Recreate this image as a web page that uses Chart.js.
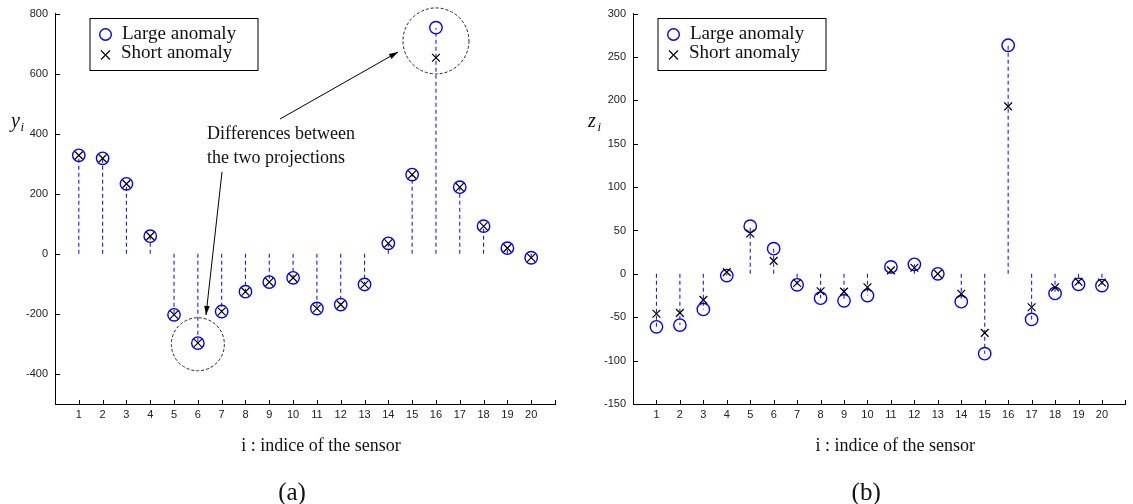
<!DOCTYPE html>
<html>
<head>
<meta charset="utf-8">
<script src="https://cdn.jsdelivr.net/npm/chart.js@4.4.1/dist/chart.umd.min.js"></script>
<style>
  body { margin: 0; background: #fff; }
  #wrap { position: relative; width: 1133px; height: 504px; }
  .box { position: absolute; top: 0; height: 504px; }
</style>
</head>
<body>
<div id="wrap">
  <div class="box" style="left:0;width:566px"><canvas id="chartA"></canvas></div>
  <div class="box" style="left:566px;width:567px"><canvas id="chartB"></canvas></div>
</div>
<script>
// sensor indices
const sensors = [1, 2, 3, 4, 5, 6, 7, 8, 9, 10, 11, 12, 13, 14, 15, 16, 17, 18, 19, 20];

// (a) projections y_i
const largeY = [328, 318, 233, 59, -203, -297, -192, -126, -94, -80, -182, -169, -102, 35, 264, 753, 222, 92, 19, -13];
const shortY = [328, 318, 233, 59, -203, -297, -192, -126, -94, -80, -182, -169, -102, 35, 264, 653, 222, 92, 19, -13];

// (b) projections z_i
const largeZ = [-61, -59, -41, -2, 55, 29, -12.6, -28, -31, -25, 8, 11, 0, -32, -92, 263.5, -52.5, -22.5, -12, -13.5];
const shortZ = [-46, -45, -30, 2, 46.5, 15, -10.5, -20, -20.5, -15.5, 4, 7, 0, -23, -68, 193, -38.5, -15.5, -9, -10];

const yTicksA = [-400, -200, 0, 200, 400, 600, 800];
const yTicksB = [-150, -100, -50, 0, 50, 100, 150, 200, 250, 300];
const xTicks = [1, 2, 3, 4, 5, 6, 7, 8, 9, 10, 11, 12, 13, 14, 15, 16, 17, 18, 19, 20];

const SERIF = '"Liberation Serif", "Times New Roman", serif';
const SANS = '"Liberation Sans", Arial, sans-serif';
const BLUE = '#0000ff';

function stemSets(vals) {
  return sensors.map((s, i) => ({
    type: 'line',
    data: [{ x: s, y: 0 }, { x: s, y: vals[i] }],
    borderColor: '#1a1aff',
    borderWidth: 1.1,
    borderDash: [4, 3],
    pointRadius: 0,
    order: 2
  }));
}

function drawCross(ctx, x, y, r) {
  ctx.beginPath();
  ctx.moveTo(x - r, y - r); ctx.lineTo(x + r, y + r);
  ctx.moveTo(x - r, y + r); ctx.lineTo(x + r, y - r);
  ctx.stroke();
}

function arrow(ctx, x1, y1, x2, y2) {
  ctx.save();
  ctx.strokeStyle = '#000';
  ctx.fillStyle = '#000';
  ctx.lineWidth = 1;
  ctx.setLineDash([]);
  ctx.beginPath();
  ctx.moveTo(x1, y1); ctx.lineTo(x2, y2);
  ctx.stroke();
  const a = Math.atan2(y2 - y1, x2 - x1);
  const L = 9, W = 2.8;
  ctx.beginPath();
  ctx.moveTo(x2, y2);
  ctx.lineTo(x2 - L * Math.cos(a) + W * Math.sin(a), y2 - L * Math.sin(a) - W * Math.cos(a));
  ctx.lineTo(x2 - L * Math.cos(a) - W * Math.sin(a), y2 - L * Math.sin(a) + W * Math.cos(a));
  ctx.closePath();
  ctx.fill();
  ctx.restore();
}

// extras: inward ticks, legend, axis labels, panel letters
function extrasPlugin(cfg) {
  return {
    id: 'extras',
    afterDraw(chart) {
      const ctx = chart.ctx;
      const xs = chart.scales.x, ys = chart.scales.y;
      const ca = chart.chartArea;
      ctx.save();
      ctx.strokeStyle = '#000';
      ctx.lineWidth = 1;
      // inward ticks
      ctx.beginPath();
      xTicks.concat([21]).forEach(v => {
        const px = Math.round(xs.getPixelForValue(v)) + 0.5;
        ctx.moveTo(px, ca.bottom); ctx.lineTo(px, ca.bottom - 4);
      });
      cfg.yTicks.forEach(v => {
        const py = Math.round(ys.getPixelForValue(v)) + 0.5;
        ctx.moveTo(ca.left, py); ctx.lineTo(ca.left + 5, py);
      });
      ctx.stroke();

      // legend box
      const lx = ca.left + cfg.legendDx, ly = 18.5, lw = 168, lh = 52;
      ctx.fillStyle = '#fff';
      ctx.fillRect(lx, ly, lw, lh);
      ctx.strokeStyle = '#000';
      ctx.strokeRect(lx, ly, lw, lh);
      ctx.strokeStyle = BLUE;
      ctx.lineWidth = 1.4;
      ctx.beginPath();
      ctx.arc(lx + 15.5, ly + 16, 5.8, 0, Math.PI * 2);
      ctx.stroke();
      ctx.strokeStyle = '#000';
      ctx.lineWidth = 1.1;
      drawCross(ctx, lx + 15.5, ly + 36.5, 4.5);
      ctx.fillStyle = '#111';
      ctx.font = '19px ' + SERIF;
      ctx.textBaseline = 'middle';
      ctx.textAlign = 'left';
      ctx.fillText('Large anomaly', lx + 32, ly + 16);
      ctx.fillText('Short anomaly', lx + 31, ly + 35);

      // y label with subscript
      ctx.font = 'italic 20px ' + SERIF;
      ctx.textBaseline = 'alphabetic';
      ctx.fillText(cfg.yName, cfg.yLabelX, 127);
      ctx.font = 'italic 13px ' + SERIF;
      ctx.fillText('i', cfg.yLabelX + 9.5, 131);

      // x title and panel letter
      ctx.textAlign = 'center';
      ctx.textBaseline = 'middle';
      ctx.font = '18px ' + SERIF;
      ctx.fillText('i : indice of the sensor', (ca.left + ca.right) / 2 + 16, 446);
      ctx.font = '25px ' + SERIF;
      ctx.fillText(cfg.letter, (ca.left + ca.right) / 2 + cfg.letterDx, 493);

      if (cfg.annotate) cfg.annotate(chart, ctx);
      ctx.restore();
    }
  };
}

function annotateA(chart, ctx) {
  const xs = chart.scales.x, ys = chart.scales.y;
  ctx.strokeStyle = '#222';
  ctx.lineWidth = 1;
  ctx.setLineDash([3, 2]);
  const c1x = xs.getPixelForValue(6), c1y = ys.getPixelForValue(-301);
  ctx.beginPath(); ctx.arc(c1x, c1y, 26.5, 0, Math.PI * 2); ctx.stroke();
  const c2x = xs.getPixelForValue(16), c2y = ys.getPixelForValue(709);
  ctx.beginPath(); ctx.arc(c2x, c2y, 33, 0, Math.PI * 2); ctx.stroke();
  ctx.setLineDash([]);
  ctx.fillStyle = '#111';
  ctx.font = '18px ' + SERIF;
  ctx.textAlign = 'left';
  ctx.textBaseline = 'middle';
  ctx.fillText('Differences between', 207, 134);
  ctx.fillText('the two projections', 207, 158);
  arrow(ctx, 280, 119, 398, 52);
  arrow(ctx, 222, 172, 206, 315);
}

function makeChart(id, opts) {
  const scaleFont = { family: SANS, size: 11 };
  return new Chart(document.getElementById(id), {
    type: 'scatter',
    data: {
      datasets: [
        {
          data: sensors.map((s, i) => ({ x: s, y: opts.short[i] })),
          pointStyle: 'crossRot',
          pointRadius: 5.5,
          pointBorderColor: '#000',
          pointBorderWidth: 1.2,
          order: 0
        },
        {
          data: sensors.map((s, i) => ({ x: s, y: opts.large[i] })),
          pointStyle: 'circle',
          pointRadius: 6.2,
          pointBackgroundColor: 'rgba(0,0,0,0)',
          pointBorderColor: BLUE,
          pointBorderWidth: 1.4,
          order: 1
        },
        ...stemSets(opts.large)
      ]
    },
    options: {
      responsive: true,
      maintainAspectRatio: false,
      animation: false,
      events: [],
      layout: { padding: { left: 0, right: opts.padRight, top: 11, bottom: 0 } },
      plugins: { legend: { display: false }, tooltip: { enabled: false } },
      scales: {
        x: {
          type: 'linear', min: 0, max: 21,
          afterBuildTicks: s => { s.ticks = xTicks.map(v => ({ value: v })); },
          afterFit: s => { s.height = 100; },
          grid: { display: false, drawTicks: false },
          border: { display: true, color: '#000', width: 1 },
          ticks: { font: scaleFont, color: '#222', padding: 4, maxRotation: 0, autoSkip: false }
        },
        y: {
          min: opts.yMin, max: opts.yMax,
          afterBuildTicks: s => { s.ticks = opts.yTicks.map(v => ({ value: v })); },
          afterFit: s => { s.width = opts.yWidth; },
          grid: { display: false, drawTicks: false },
          border: { display: true, color: '#000', width: 1 },
          ticks: { font: scaleFont, color: '#222', padding: 7 }
        }
      }
    },
    plugins: [extrasPlugin(opts)]
  });
}

makeChart('chartA', {
  large: largeY, short: shortY, yMin: -500, yMax: 800, yTicks: yTicksA,
  yWidth: 55, padRight: 11, legendDx: 35, yName: 'y', yLabelX: 11,
  letter: '(a)', letterDx: -13, annotate: annotateA
});
makeChart('chartB', {
  large: largeZ, short: shortZ, yMin: -150, yMax: 300, yTicks: yTicksB,
  yWidth: 67, padRight: 0, legendDx: 25, yName: 'z', yLabelX: 22,
  letter: '(b)', letterDx: -13
});
</script>
</body>
</html>
